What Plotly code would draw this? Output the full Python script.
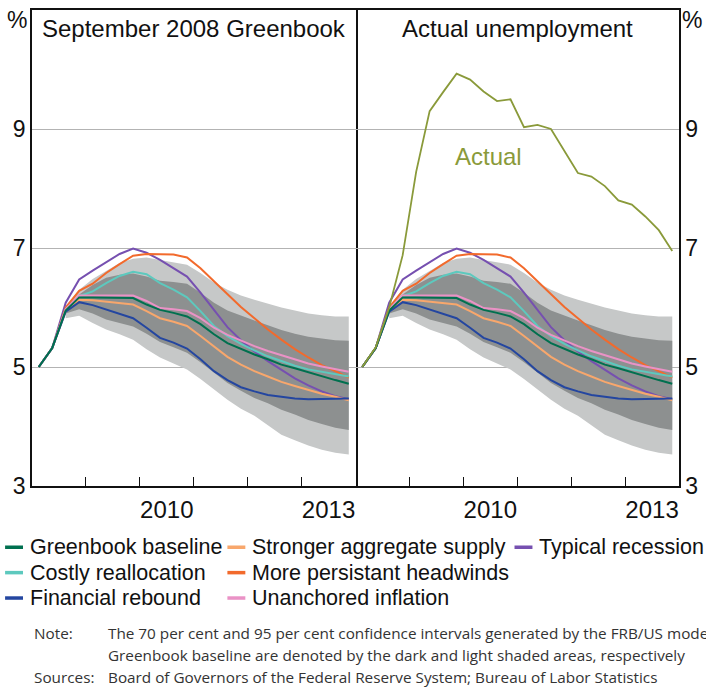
import plotly.graph_objects as go

# ---------------- data ----------------
quarters = ['2008Q1', '2008Q2', '2008Q3', '2008Q4', '2009Q1', '2009Q2', '2009Q3', '2009Q4',
            '2010Q1', '2010Q2', '2010Q3', '2010Q4', '2011Q1', '2011Q2', '2011Q3', '2011Q4',
            '2012Q1', '2012Q2', '2012Q3', '2012Q4', '2013Q1', '2013Q2', '2013Q3', '2013Q4']

actual = [5.0, 5.33, 6.0, 6.88, 8.28, 9.30, 9.62, 9.93, 9.83, 9.63, 9.47, 9.50,
          9.03, 9.07, 9.00, 8.63, 8.26, 8.20, 8.04, 7.80, 7.73, 7.53, 7.30, 6.95]

greenbook = [5.0, 5.32, 5.95, 6.17, 6.17, 6.17, 6.17, 6.16, 6.05, 5.96, 5.91, 5.85,
             5.72, 5.55, 5.40, 5.30, 5.21, 5.13, 5.04, 4.98, 4.91, 4.84, 4.78, 4.72]
stronger = [5.0, 5.32, 5.94, 6.13, 6.12, 6.10, 6.08, 6.05, 5.94, 5.82, 5.76, 5.69,
            5.52, 5.34, 5.17, 5.04, 4.93, 4.84, 4.75, 4.68, 4.61, 4.55, 4.50, 4.44]
typical = [5.0, 5.32, 6.08, 6.47, 6.62, 6.76, 6.90, 6.99, 6.92, 6.80, 6.66, 6.52,
           6.25, 5.95, 5.67, 5.45, 5.26, 5.10, 4.95, 4.81, 4.69, 4.59, 4.51, 4.46]
costly = [5.0, 5.32, 5.97, 6.19, 6.27, 6.41, 6.53, 6.60, 6.56, 6.41, 6.30, 6.17,
          5.94, 5.69, 5.52, 5.39, 5.28, 5.18, 5.10, 5.02, 4.96, 4.92, 4.87, 4.84]
headwinds = [5.0, 5.32, 6.0, 6.28, 6.40, 6.58, 6.73, 6.87, 6.90, 6.89, 6.89, 6.84,
             6.66, 6.44, 6.22, 6.01, 5.82, 5.63, 5.46, 5.30, 5.16, 5.03, 4.93, 4.82]
rebound = [5.0, 5.32, 5.93, 6.09, 6.04, 5.97, 5.89, 5.82, 5.66, 5.49, 5.41, 5.31,
           5.13, 4.93, 4.78, 4.66, 4.59, 4.53, 4.50, 4.47, 4.46, 4.46, 4.46, 4.47]
unanchored = [5.0, 5.32, 5.97, 6.20, 6.20, 6.20, 6.20, 6.20, 6.11, 5.99, 5.97, 5.94,
              5.82, 5.66, 5.54, 5.44, 5.35, 5.27, 5.20, 5.13, 5.06, 5.01, 4.96, 4.92]

# confidence bands (from 2008Q3)
band_quarters = quarters[2:]
upper95 = [6.02, 6.30, 6.48, 6.62, 6.75, 6.82, 6.84, 6.80, 6.76, 6.72, 6.58, 6.42,
           6.30, 6.20, 6.13, 6.06, 6.00, 5.95, 5.90, 5.87, 5.85, 5.85]
upper70 = [5.98, 6.22, 6.38, 6.50, 6.55, 6.57, 6.52, 6.45, 6.43, 6.40, 6.25, 6.08,
           5.95, 5.86, 5.78, 5.70, 5.62, 5.56, 5.51, 5.48, 5.45, 5.44]
lower70 = [5.90, 5.97, 5.90, 5.80, 5.74, 5.68, 5.56, 5.42, 5.33, 5.24, 5.08, 4.90,
           4.73, 4.60, 4.48, 4.39, 4.28, 4.20, 4.11, 4.04, 3.98, 3.94]
lower95 = [5.82, 5.86, 5.74, 5.63, 5.55, 5.46, 5.30, 5.16, 5.06, 4.96, 4.80, 4.62,
           4.45, 4.30, 4.18, 4.02, 3.86, 3.77, 3.68, 3.61, 3.56, 3.53]

panel_titles = ['September 2008 Greenbook', 'Actual unemployment']
y_ticks = [3, 5, 7, 9]
x_label_years = [2010, 2013]
x_tick_years = [2009, 2010, 2011, 2012, 2013]

series_names = ['Typical recession', 'More persistant headwinds', 'Costly reallocation',
                'Unanchored inflation', 'Stronger aggregate supply', 'Financial rebound',
                'Greenbook baseline']
series_values = [typical, headwinds, costly, unanchored, stronger, rebound, greenbook]
series_colors = ['#7650b0', '#f26a2c', '#5dc9be', '#ea92c6', '#f8a76c', '#2446a0', '#00704f']

# legend layout (column, row) per series name
legend_cells = {
    'Greenbook baseline': (0, 0), 'Stronger aggregate supply': (1, 0), 'Typical recession': (2, 0),
    'Costly reallocation': (0, 1), 'More persistant headwinds': (1, 1),
    'Financial rebound': (0, 2), 'Unanchored inflation': (1, 2),
}

note_text = ('The 70 per cent and 95 per cent confidence intervals generated by the FRB/US model',
             'Greenbook baseline are denoted by the dark and light shaded areas, respectively')
source_text = 'Board of Governors of the Federal Reserve System; Bureau of Labor Statistics'


def qx(q):
    return int(q[:4]) + (int(q[-1]) - 0.5) / 4.0


x_all = [qx(q) for q in quarters]
x_band = [qx(q) for q in band_quarters]

# ---------------- geometry ----------------
W, H = 706, 693
ML, MR, MT, MB = 32, 25, 8, 207
PW = W - ML - MR
PH = H - MT - MB


def px_x(p):
    return (p - ML) / PW


def px_y(p):
    return (H - MB - p) / PH


LIGHT = '#c6c8c8'
DARK = '#8d9090'
FONT = 'Liberation Sans, Arial, sans-serif'

fig = go.Figure()

for k, (xa, ya) in enumerate([('x', 'y'), ('x2', 'y2')]):
    fig.add_trace(go.Scatter(x=x_band, y=lower95, mode='lines', line=dict(width=0, color=LIGHT),
                             showlegend=False, hoverinfo='skip', xaxis=xa, yaxis=ya))
    fig.add_trace(go.Scatter(x=x_band, y=upper95, mode='lines', line=dict(width=0, color=LIGHT),
                             fill='tonexty', fillcolor=LIGHT, showlegend=False, hoverinfo='skip',
                             xaxis=xa, yaxis=ya))
    fig.add_trace(go.Scatter(x=x_band, y=lower70, mode='lines', line=dict(width=0, color=DARK),
                             showlegend=False, hoverinfo='skip', xaxis=xa, yaxis=ya))
    fig.add_trace(go.Scatter(x=x_band, y=upper70, mode='lines', line=dict(width=0, color=DARK),
                             fill='tonexty', fillcolor=DARK, showlegend=False, hoverinfo='skip',
                             xaxis=xa, yaxis=ya))
    for name, vals, col in zip(series_names, series_values, series_colors):
        fig.add_trace(go.Scatter(x=x_all, y=vals, mode='lines', name=name,
                                 line=dict(color=col, width=2), showlegend=False,
                                 xaxis=xa, yaxis=ya))

fig.add_trace(go.Scatter(x=x_all, y=actual, mode='lines', name='Actual',
                         line=dict(color='#8a9a3a', width=1.8), showlegend=False,
                         xaxis='x2', yaxis='y2'))

xcommon = dict(range=[2008, 2014], showgrid=False, zeroline=False, showline=True,
               linecolor='#111', linewidth=1.5, mirror=True,
               tickmode='array', tickvals=[y + 0.5 for y in x_label_years],
               ticktext=[str(y) for y in x_label_years], ticks='',
               tickfont=dict(family=FONT, size=24, color='#111'), ticklabelstandoff=1,
               minor=dict(tickmode='array', tickvals=x_tick_years, ticks='inside',
                          ticklen=9, tickwidth=1.3, tickcolor='#111', showgrid=False))
ycommon = dict(range=[3, 11], showgrid=True, gridcolor='#b3b3b3', gridwidth=1,
               zeroline=False, showline=True, linecolor='#111', linewidth=1.5,
               tickmode='array', tickvals=y_ticks, ticktext=[str(v) for v in y_ticks],
               ticks='', tickfont=dict(family=FONT, size=23, color='#111'))

fig.update_layout(
    width=W, height=H, margin=dict(l=ML, r=MR, t=MT, b=MB),
    paper_bgcolor='white', plot_bgcolor='white', showlegend=False,
    xaxis=dict(domain=[0, 0.5], anchor='y', **xcommon),
    xaxis2=dict(domain=[0.5, 1], anchor='y2', **xcommon),
    yaxis=dict(anchor='x', side='left', mirror=True, **ycommon),
    yaxis2=dict(anchor='x2', side='right', mirror=False, **ycommon),
)

ann = []
# panel titles
ann.append(dict(x=0.25, y=px_y(27), xref='paper', yref='paper', text=panel_titles[0],
                showarrow=False, font=dict(family=FONT, size=24, color='#111'),
                xanchor='center', yanchor='middle'))
ann.append(dict(x=0.75, y=px_y(27), xref='paper', yref='paper', text=panel_titles[1],
                showarrow=False, font=dict(family=FONT, size=24, color='#111'),
                xanchor='center', yanchor='middle'))
# % units
ann.append(dict(x=px_x(17), y=px_y(18), xref='paper', yref='paper', text='%', showarrow=False,
                font=dict(family=FONT, size=23, color='#111'), xanchor='center', yanchor='middle'))
ann.append(dict(x=px_x(694), y=px_y(18), xref='paper', yref='paper', text='%', showarrow=False,
                font=dict(family=FONT, size=23, color='#111'), xanchor='center', yanchor='middle'))
# Actual label
ann.append(dict(x=2010.46, y=8.53, xref='x2', yref='y2', text='Actual', showarrow=False,
                font=dict(family=FONT, size=24, color='#8a9a3a'), xanchor='center', yanchor='middle'))

# legend
col_swatch = [5, 228, 516]
row_y = [547.5, 573, 598.5]
shapes = []
for name, col in zip(series_names, series_colors):
    c, r = legend_cells[name]
    x0 = col_swatch[c]
    yy = row_y[r]
    shapes.append(dict(type='line', xref='paper', yref='paper', x0=px_x(x0), x1=px_x(x0 + 18),
                       y0=px_y(yy), y1=px_y(yy), line=dict(color=col, width=3.5)))
    ann.append(dict(x=px_x(x0 + 23), y=px_y(yy), xref='paper', yref='paper', text=name,
                    showarrow=False, font=dict(family=FONT, size=21.5, color='#111'),
                    xanchor='left', yanchor='middle'))

# notes
NFONT = 'Open Sans, Lato, sans-serif'
note_rows = [(634, 'Note:', note_text[0]), (656, '', note_text[1]), (678, 'Sources:', source_text)]
for yy, lab, txt in note_rows:
    if lab:
        ann.append(dict(x=px_x(32), y=px_y(yy), xref='paper', yref='paper', text=lab,
                        showarrow=False, font=dict(family=NFONT, size=15.3, color='#333'),
                        xanchor='left', yanchor='middle'))
    ann.append(dict(x=px_x(106), y=px_y(yy), xref='paper', yref='paper', text=txt,
                    showarrow=False, font=dict(family=NFONT, size=15.3, color='#333'),
                    xanchor='left', yanchor='middle'))

fig.update_layout(annotations=ann, shapes=shapes)
fig.write_html('out.html')
